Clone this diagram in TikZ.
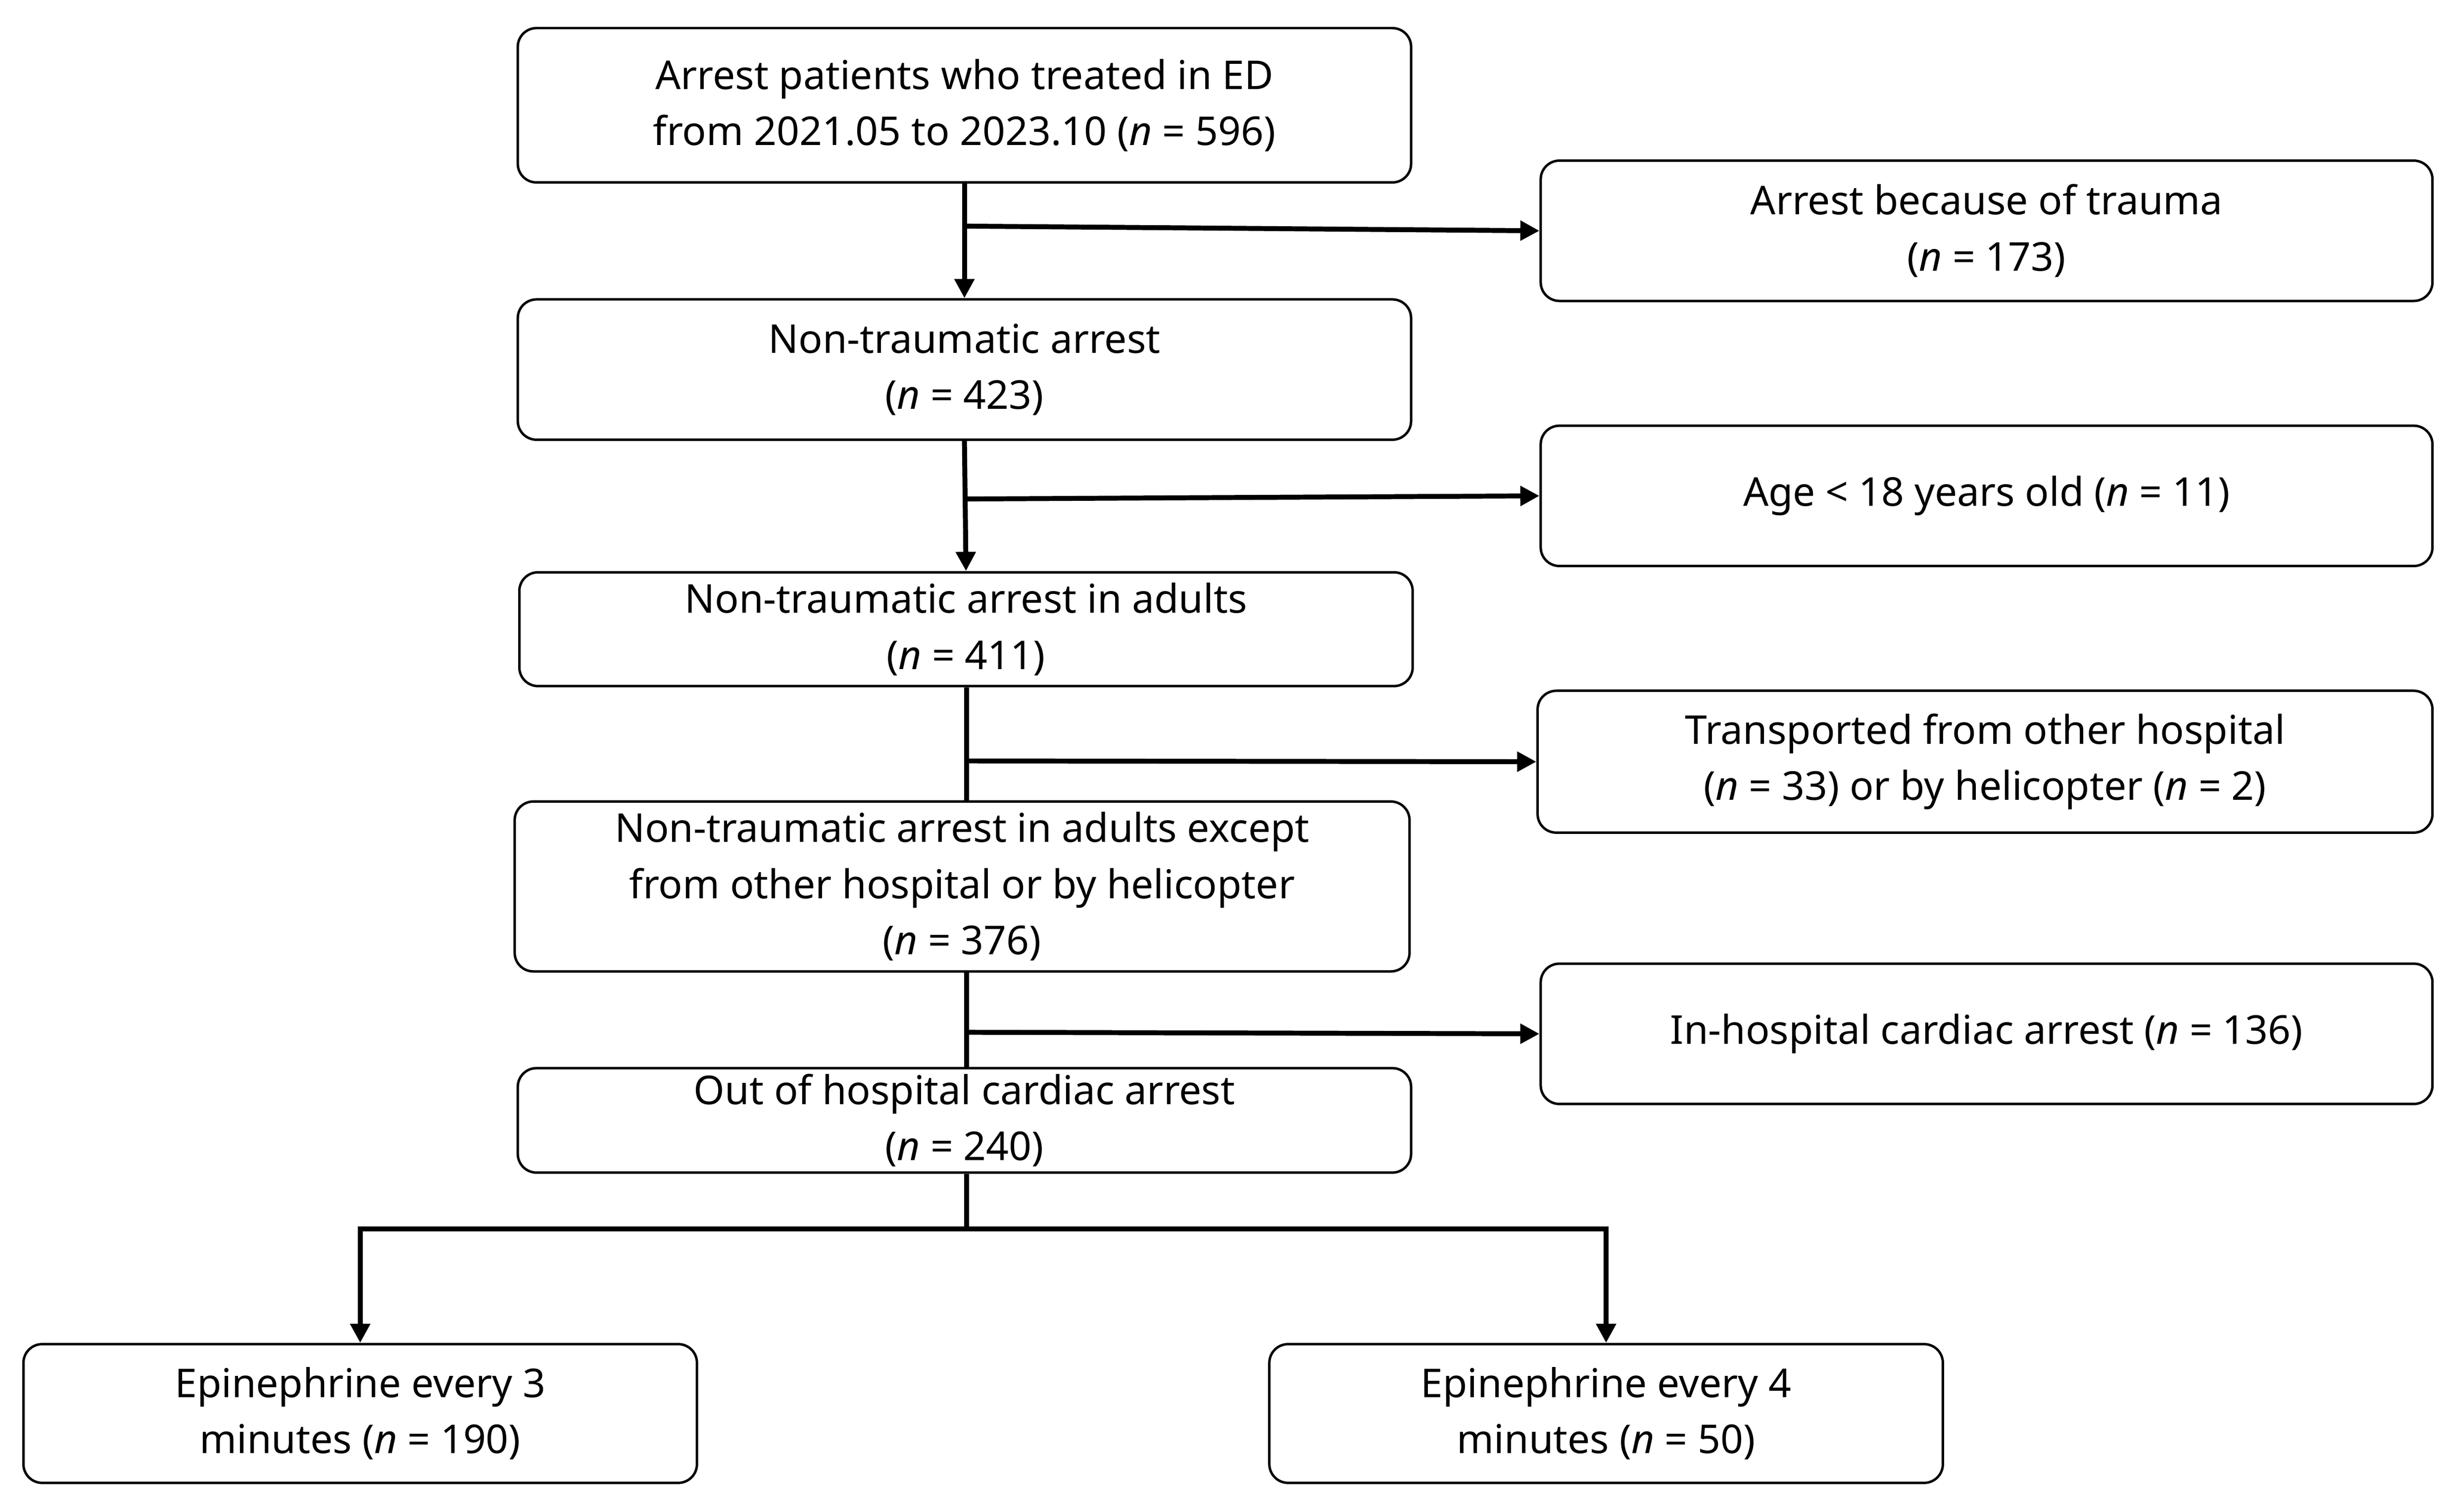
\documentclass[tikz,border=0pt]{standalone}
\usepackage{fontspec}
\setmainfont{Noto Sans}
\usetikzlibrary{arrows.meta}
\begin{document}
\begin{tikzpicture}[x=0.02cm,y=-0.02cm,
 box/.style={draw,line width=0.9pt,rounded corners=0.24cm,align=center,inner sep=0pt,font=\fontsize{14.5}{20.5}\selectfont},
 ln/.style={line width=1.8pt},
 arr/.style={ln,-{Triangle[length=7pt,width=7pt]}}]
\useasboundingbox (0,0) rectangle (1568,969.5);
\node[box,minimum width=11.46cm,minimum height=1.98cm] (b1) at (618.5,67.5) {Arrest patients who treated in ED\\from 2021.05 to 2023.10 (\textit{n} = 596)};
\node[box,minimum width=11.44cm,minimum height=1.8cm] (t1) at (1274,148) {Arrest because of trauma\\(\textit{n} = 173)};
\node[box,minimum width=11.46cm,minimum height=1.8cm] (b2) at (618.5,237) {Non-traumatic arrest\\(\textit{n} = 423)};
\node[box,minimum width=11.44cm,minimum height=1.8cm] (t2) at (1274,318) {Age < 18 years old (\textit{n} = 11)};
\node[box,minimum width=11.46cm,minimum height=1.46cm] (b3) at (619.5,403.5) {Non-traumatic arrest in adults\\(\textit{n} = 411)};
\node[box,minimum width=11.48cm,minimum height=1.82cm] (t3) at (1273,488.5) {Transported from other hospital\\(\textit{n} = 33) or by helicopter (\textit{n} = 2)};
\node[box,minimum width=11.48cm,minimum height=2.18cm] (b4) at (617,568.5) {Non-traumatic arrest in adults except\\from other hospital or by helicopter\\(\textit{n} = 376)};
\node[box,minimum width=11.44cm,minimum height=1.8cm] (t4) at (1274,663) {In-hospital cardiac arrest (\textit{n} = 136)};
\node[box,minimum width=11.46cm,minimum height=1.34cm] (b5) at (618.5,718.5) {Out of hospital cardiac arrest\\(\textit{n} = 240)};
\node[box,minimum width=8.64cm,minimum height=1.78cm] (bl) at (231,906.5) {Epinephrine every 3\\minutes (\textit{n} = 190)};
\node[box,minimum width=8.64cm,minimum height=1.78cm] (br) at (1030,906.5) {Epinephrine every 4\\minutes (\textit{n} = 50)};
\coordinate (s1) at (b1.south); \coordinate (j1) at (618.5,145);
\coordinate (j2) at (618.5,320);
\coordinate (j3) at (620,488);
\coordinate (j4) at (620,662);
\coordinate (j5) at (620,788);
\draw[arr] (b1.south) -- (b2.north);
\draw[arr] (j1) -- (t1.west);
\draw[arr] (b2.south) -- (b3.north);
\draw[arr] (j2) -- (t2.west);
\draw[ln] (b3.south -| j3) -- (b4.north -| j3);
\draw[arr] (j3) -- (t3.west);
\draw[ln] (b4.south -| j4) -- (b5.north -| j4);
\draw[arr] (j4) -- (t4.west);
\draw[ln] (b5.south -| j5) -- (j5);
\draw[arr] (j5) -| (bl.north);
\draw[arr] (j5) -| (br.north);
\end{tikzpicture}
\end{document}
